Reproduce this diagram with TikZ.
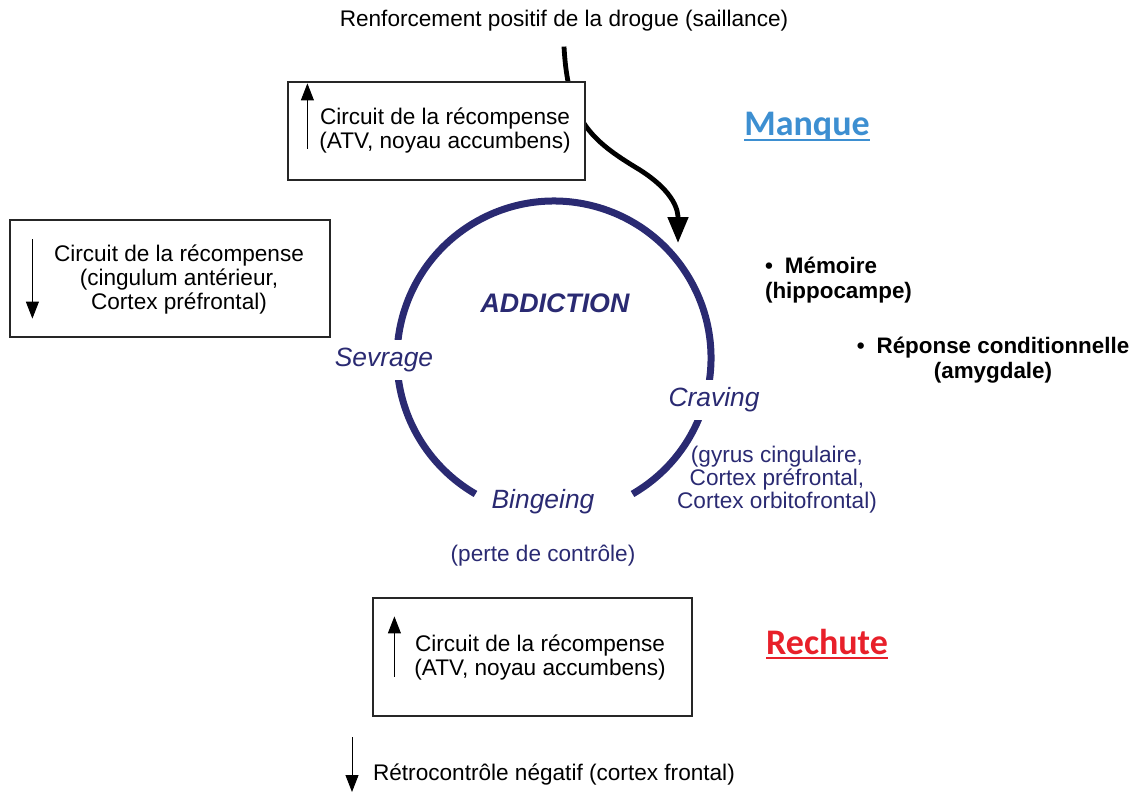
\documentclass[tikz,border=0pt]{standalone}
\usepackage{fontspec}
\setmainfont{Liberation Sans}
\newfontfamily\calibrifont{Carlito}
\usetikzlibrary{arrows.meta,positioning}
\definecolor{addnavy}{HTML}{2A2A72}
\definecolor{manqueblue}{HTML}{3D8FD1}
\definecolor{rechutered}{HTML}{E8202A}
\newcommand\thickul[1]{\setbox0\hbox{#1}\rlap{\rule[-2.6pt]{\wd0}{1.1pt}}\box0}
\tikzset{
  circuitbox/.style={draw=black!85,line width=0.6pt,fill=white,inner sep=0pt},
  boxtext/.style={align=center,font=\fontsize{11.3}{12}\selectfont},
  cyclelabel/.style={text=addnavy,font=\fontsize{13.2}{15}\selectfont\itshape},
  navytext/.style={text=addnavy,align=center,font=\fontsize{11.3}{11.5}\selectfont},
  bulletext/.style={font=\fontsize{11.2}{12.5}\selectfont\bfseries},
  bigtitle/.style={font=\calibrifont\fontsize{18}{20}\selectfont\bfseries},
  markarrow/.style={line width=0.45pt,-{Triangle[length=8.5pt,width=6.5pt]}},
  bigarrow/.style={line width=2.4pt,-{Triangle[length=13pt,width=10pt]}}
}
\begin{document}
\begin{tikzpicture}[x=0.5pt,y=-0.5pt]
  \useasboundingbox (0,0) rectangle (1138,792);
  % centre and radius of the cycle
  \def\rc{78.5pt}
  \coordinate (cyc) at (554,358);
  \draw[addnavy,line width=3.5pt] (cyc) ++(-60:\rc) arc[start angle=-60,end angle=240,radius=\rc];
  \node[cyclelabel,font=\fontsize{13.4}{15}\selectfont\bfseries\itshape] (addiction) at (555,303) {ADDICTION};
  \node[cyclelabel,fill=white,inner xsep=1pt,inner ysep=4pt] (sevrage) at (384,360) {Sevrage};
  \node[cyclelabel,fill=white,inner xsep=1pt,inner ysep=4pt] (craving) at (714,400) {Craving};
  \node[cyclelabel] (bingeing) at (543,502) {Bingeing};
  \node[navytext] (perte) at (543,556) {(perte de contr\^ole)};
  \node[navytext] (gyrus) at (777,480) {(gyrus cingulaire,\\Cortex pr\'efrontal,\\Cortex orbitofrontal)};

  % drug reinforcement arrow, passes behind the top box
  \node[boxtext] (renfort) at (564,21) {Renforcement positif de la drogue (saillance)};
  \coordinate (craventry) at (678,243);
  \draw[bigarrow] ([yshift=-4pt]renfort.south) .. controls (568,120) and (590,140) .. (640,170)
        .. controls (676,193) and (678,212) .. (craventry);

  % boxes
  \node[circuitbox,minimum width=148.5pt,minimum height=49pt] (boxtop) at (436.5,131) {};
  \node[boxtext] (txttop) at (445,131) {Circuit de la r\'ecompense\\(ATV, noyau accumbens)};
  \draw[markarrow] ([xshift=10pt,yshift=16pt]boxtop.south west) -- ([xshift=10pt,yshift=-1pt]boxtop.north west);

  \node[circuitbox,minimum width=160pt,minimum height=58.5pt] (boxleft) at (170,278.5) {};
  \node[boxtext] (txtleft) at (179,280) {Circuit de la r\'ecompense\\(cingulum ant\'erieur,\\Cortex pr\'efrontal)};
  \draw[markarrow] ([xshift=11.5pt,yshift=-10pt]boxleft.north west) -- ([xshift=11.5pt,yshift=9.5pt]boxleft.south west);

  \node[circuitbox,minimum width=159.5pt,minimum height=59pt] (boxbot) at (532.5,657) {};
  \node[boxtext] (txtbot) at (540,657.5) {Circuit de la r\'ecompense\\(ATV, noyau accumbens)};
  \draw[markarrow] ([xshift=11pt,yshift=20pt]boxbot.south west) -- ([xshift=11pt,yshift=-9.5pt]boxbot.north west);

  % right hand side
  \node[bigtitle,text=manqueblue] (manque) at (807,127) {\thickul{Manque}};
  \node[bigtitle,text=rechutered] (rechute) at (827,644) {\thickul{Rechute}};
  \node[bulletext,align=left,anchor=west] (memoire) at (758,280) {\textbullet\hspace{6pt}M\'emoire\\(hippocampe)};
  \node[bulletext,align=center] (reponse) at (993,360) {\textbullet\hspace{6pt}R\'eponse conditionnelle\\(amygdale)};

  % negative feedback
  \coordinate (retrotop) at (352,737);
  \coordinate (retrobot) at (352,792);
  \draw[markarrow] (retrotop) -- (retrobot);
  \node[boxtext,anchor=west] (retro) at (366,775) {R\'etrocontr\^ole n\'egatif (cortex frontal)};
\end{tikzpicture}
\end{document}
